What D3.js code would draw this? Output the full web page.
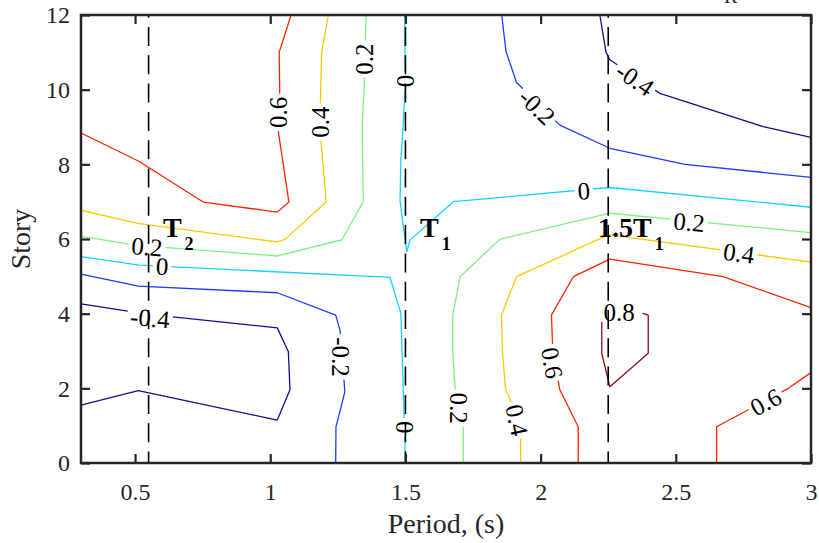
<!DOCTYPE html>
<html>
<head>
<meta charset="utf-8">
<script src="https://cdn.jsdelivr.net/npm/d3@7"></script>
<style>
  body { margin: 0; background: #fff; }
  svg { display: block; }
  text { font-family: "Liberation Serif", "Times New Roman", Times, serif; }
</style>
</head>
<body>
<svg id="chart" width="819" height="543"></svg>
<script>
// ---- data ---------------------------------------------------------------
const periodDomain = [0.3, 3];
const storyDomain = [0, 12];
const xTickValues = [0.5, 1, 1.5, 2, 2.5, 3];
const yTickValues = [0, 2, 4, 6, 8, 10, 12];

const contourLevels = [-0.4, -0.2, 0, 0.2, 0.4, 0.6, 0.8];

// contour polylines, [period (s), story]
const levelM04Top = [[2.219, 12], [2.242, 11.0], [2.256, 10.8], [2.441, 9.9], [2.823, 9.01], [3, 8.72]];
const levelM04Left = [[0.3, 4.26], [0.551, 3.98], [1.026, 3.62], [1.067, 2.98], [1.073, 1.96], [1.026, 1.15], [0.512, 1.94], [0.3, 1.55]];
const levelM02Left = [[0.3, 5.06], [0.512, 4.74], [1.026, 4.56], [1.242, 3.96], [1.258, 3.56], [1.276, 1.91], [1.243, 0.97], [1.242, 0]];
const levelM02Top = [[1.856, 12], [1.872, 11.02], [1.911, 10.19], [2.071, 9.05], [2.256, 8.43], [2.534, 8.0], [3, 7.65]];
const level0Lower = [[0.3, 5.53], [0.515, 5.30], [1.443, 4.97], [1.483, 4.01], [1.495, 1.33], [1.5, 0]];
const level0Upper = [[1.498, 12], [1.498, 9.95], [1.49, 8.83], [1.483, 8.12], [1.48, 7.04], [1.489, 6.51], [1.505, 5.66], [1.517, 5.97], [1.677, 7.0], [2.256, 7.38], [3, 6.85]];
const level02Left = [[0.3, 6.07], [0.51, 5.83], [1.026, 5.545], [1.265, 5.98], [1.344, 7.0], [1.34, 9.01], [1.348, 10.21], [1.354, 12]];
const level02Right = [[1.714, 0], [1.714, 1.0], [1.683, 2.04], [1.675, 2.98], [1.675, 3.96], [1.702, 4.99], [1.849, 5.99], [2.256, 6.69], [3, 6.17]];
const level04Left = [[0.3, 6.77], [0.51, 6.42], [1.026, 5.92], [1.054, 5.99], [1.207, 6.99], [1.183, 9.0], [1.19, 11.0], [1.215, 12]];
const level04Right = [[1.926, 0], [1.926, 1.0], [1.87, 2.0], [1.859, 2.98], [1.855, 3.96], [1.911, 4.99], [2.207, 5.97], [2.256, 6.11], [3, 5.38]];
const level06Left = [[0.3, 8.84], [0.512, 8.09], [0.752, 6.99], [1.026, 6.72], [1.069, 6.99], [1.03, 8.87], [1.035, 10.0], [1.033, 11.0], [1.077, 12]];
const level06Right = [[2.139, 0], [2.139, 0.97], [2.071, 1.96], [2.045, 3.0], [2.04, 3.96], [2.121, 4.99], [2.256, 5.46], [2.675, 4.99], [3, 4.16]];
const level06Corner = [[2.651, 0], [2.651, 0.97], [2.916, 2.0], [3, 2.42]];
const level08Peak = [[2.226, 4.0], [2.226, 2.94], [2.256, 2.04], [2.398, 2.94], [2.398, 3.96], [2.377, 4.01]];

const contourLines = [
  { level: -0.4, points: levelM04Top },
  { level: -0.4, points: levelM04Left },
  { level: -0.2, points: levelM02Left },
  { level: -0.2, points: levelM02Top },
  { level: 0, points: level0Lower },
  { level: 0, points: level0Upper },
  { level: 0.2, points: level02Left },
  { level: 0.2, points: level02Right },
  { level: 0.4, points: level04Left },
  { level: 0.4, points: level04Right },
  { level: 0.6, points: level06Left },
  { level: 0.6, points: level06Right },
  { level: 0.6, points: level06Corner },
  { level: 0.8, points: level08Peak }
];

// inline contour labels: level, period, story, text angle (deg)
const contourLabels = [
  { level: 0.6, period: 1.03, story: 9.39, angle: -90 },
  { level: 0.4, period: 1.186, story: 9.13, angle: -90 },
  { level: 0.2, period: 1.35, story: 10.82, angle: -90 },
  { level: 0, period: 1.502, story: 10.23, angle: -90 },
  { level: -0.2, period: 1.986, story: 9.54, angle: 44 },
  { level: -0.4, period: 2.349, story: 10.28, angle: 34 },
  { level: 0, period: 2.16, story: 7.29, angle: -3 },
  { level: 0.2, period: 2.549, story: 6.45, angle: 5 },
  { level: 0.4, period: 2.733, story: 5.62, angle: 8 },
  { level: 0.8, period: 2.29, story: 4.02, angle: 0 },
  { level: 0.6, period: 2.833, story: 1.63, angle: -28 },
  { level: 0.6, period: 2.042, story: 2.68, angle: 80 },
  { level: 0.4, period: 1.912, story: 1.15, angle: 78 },
  { level: 0.2, period: 1.698, story: 1.47, angle: 90 },
  { level: 0, period: 1.498, story: 0.96, angle: 90 },
  { level: -0.2, period: 1.258, story: 2.84, angle: 90 },
  { level: -0.4, period: 0.555, story: 3.88, angle: 5 },
  { level: 0, period: 0.6, story: 5.27, angle: 3 },
  { level: 0.2, period: 0.544, story: 5.79, angle: 5 }
];

// reference periods (dashed verticals) and their labels
const periodMarks = [
  { period: 0.55, name: "T", sub: "2", labelPeriod: 0.603, labelStory: 6.05 },
  { period: 1.5, name: "T", sub: "1", labelPeriod: 1.554, labelStory: 6.05 },
  { period: 2.25, name: "1.5T", sub: "1", labelPeriod: 2.212, labelStory: 6.05 }
];

// ---- styles ---------------------------------------------------------------
const levelColors = ["#10108c", "#1a3cff", "#14d2ff", "#80f080", "#ffc800", "#ff2200", "#8b1010"];
const axisColor = "#262626";

// ---- layout ---------------------------------------------------------------
const svg = d3.select("#chart");
const plot = { left: 81, right: 811, top: 15, bottom: 463 };

const x = d3.scaleLinear().domain(periodDomain).range([plot.left, plot.right]);
const y = d3.scaleLinear().domain(storyDomain).range([plot.bottom, plot.top]);
const color = d3.scaleOrdinal().domain(contourLevels).range(levelColors);
const fmt = v => (v === 0 ? "0" : String(v));

const defs = svg.append("defs");

// contour lines (gaps for labels are cut with a mask)
const line = d3.line().x(d => x(d[0])).y(d => y(d[1]));
const gLines = svg.append("g").attr("mask", "url(#labelGaps)");
gLines.selectAll("path")
  .data(contourLines)
  .join("path")
  .attr("d", d => line(d.points))
  .attr("fill", "none")
  .attr("stroke", d => color(d.level))
  .attr("stroke-width", 1.3)
  .attr("stroke-linejoin", "round");

// dashed reference periods
svg.append("g").selectAll("path")
  .data(periodMarks)
  .join("path")
  .attr("d", d => line([[d.period, storyDomain[1]], [d.period, storyDomain[0]]]))
  .attr("fill", "none")
  .attr("stroke", "#000")
  .attr("stroke-width", 1.6)
  .attr("stroke-dasharray", "19,9.3")
  .attr("stroke-dashoffset", 16.3);

// contour labels
const gLabels = svg.append("g");
const labelNodes = gLabels.selectAll("text")
  .data(contourLabels)
  .join("text")
  .attr("transform", d => `translate(${x(d.period)},${y(d.story)}) rotate(${d.angle})`)
  .attr("text-anchor", "middle")
  .attr("dy", "0.34em")
  .attr("font-size", 25)
  .attr("fill", "#000")
  .text(d => fmt(d.level));

// mask: white everywhere, black boxes behind each label
const mask = defs.append("mask")
  .attr("id", "labelGaps")
  .attr("maskUnits", "userSpaceOnUse")
  .attr("x", 0).attr("y", 0).attr("width", 819).attr("height", 543);
mask.append("rect").attr("x", 0).attr("y", 0).attr("width", 819).attr("height", 543).attr("fill", "#fff");
labelNodes.each(function (d) {
  const w = this.getComputedTextLength() + 6;
  const h = 18;
  mask.append("rect")
    .attr("transform", `translate(${x(d.period)},${y(d.story)}) rotate(${d.angle})`)
    .attr("x", -w / 2).attr("y", -h / 2)
    .attr("width", w).attr("height", h)
    .attr("fill", "#000");
});

// period mark labels (bold, with subscript)
const gMarks = svg.append("g");
periodMarks.forEach(d => {
  const t = gMarks.append("text")
    .attr("x", x(d.labelPeriod))
    .attr("y", y(d.labelStory))
    .attr("font-size", 28)
    .attr("font-weight", "bold")
    .attr("fill", "#000");
  t.append("tspan").text(d.name);
  t.append("tspan")
    .attr("font-size", 18)
    .attr("dx", 3)
    .attr("dy", 13)
    .text(d.sub);
});

// axes
const tickLen = 9;
const styleAxis = g => {
  g.select(".domain").remove();
  g.selectAll(".tick line").attr("stroke", axisColor).attr("stroke-width", 2.2);
  g.selectAll(".tick text").attr("fill", axisColor).attr("font-size", 24)
    .attr("font-family", '"Liberation Serif", "Times New Roman", serif');
};

svg.append("g")
  .attr("transform", `translate(0,${plot.bottom})`)
  .call(d3.axisBottom(x).tickValues(xTickValues).tickFormat(d3.format("")).tickSize(-tickLen).tickPadding(20))
  .call(styleAxis);

svg.append("g")
  .attr("transform", `translate(0,${plot.top})`)
  .call(d3.axisTop(x).tickValues(xTickValues).tickFormat("").tickSize(-tickLen))
  .call(styleAxis);

svg.append("g")
  .attr("transform", `translate(${plot.left},0)`)
  .call(d3.axisLeft(y).tickValues(yTickValues).tickSize(-tickLen).tickPadding(11))
  .call(styleAxis);

svg.append("g")
  .attr("transform", `translate(${plot.right},0)`)
  .call(d3.axisRight(y).tickValues(yTickValues).tickFormat("").tickSize(-tickLen))
  .call(styleAxis);

// frame
svg.append("rect")
  .attr("x", plot.left).attr("y", plot.top)
  .attr("width", plot.right - plot.left).attr("height", plot.bottom - plot.top)
  .attr("fill", "none")
  .attr("stroke", axisColor)
  .attr("stroke-width", 2.5);

// axis titles
svg.append("text")
  .attr("x", (plot.left + plot.right) / 2)
  .attr("y", 533)
  .attr("text-anchor", "middle")
  .attr("font-size", 28)
  .attr("fill", axisColor)
  .text("Period, (s)");

svg.append("text")
  .attr("transform", `translate(30,${(plot.top + plot.bottom) / 2}) rotate(-90)`)
  .attr("text-anchor", "middle")
  .attr("font-size", 28)
  .attr("fill", axisColor)
  .text("Story");

// subscript of the title above the axes (mostly outside the page)
svg.append("text")
  .attr("x", 724)
  .attr("y", 3)
  .attr("font-size", 20)
  .attr("fill", axisColor)
  .text("R");
</script>
</body>
</html>
